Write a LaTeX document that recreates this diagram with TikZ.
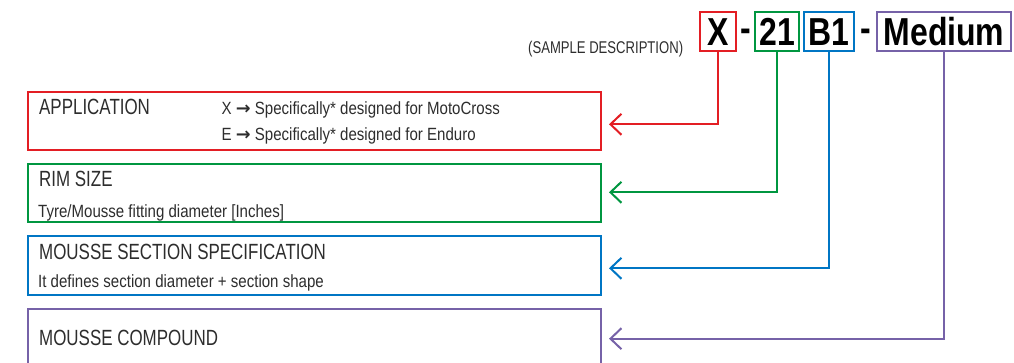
\documentclass[tikz,border=0pt]{standalone}
\usepackage{fontspec}
\setmainfont{Liberation Sans}
\newfontfamily\capfont[FakeStretch=0.77]{Liberation Sans}
\newfontfamily\descfont[FakeStretch=0.85]{Liberation Sans}
\newfontfamily\codefont[FakeStretch=0.82]{Liberation Sans}
\newfontfamily\symfont{DejaVu Sans}
\newcommand{\goesto}{{\symfont\bfseries →}}
\usetikzlibrary{arrows.meta}
\definecolor{appred}{RGB}{227,30,36}
\definecolor{rimgreen}{RGB}{0,150,64}
\definecolor{secblue}{RGB}{0,118,196}
\definecolor{cmppurple}{RGB}{118,98,168}
\definecolor{txtgray}{RGB}{45,45,45}
\tikzset{
  codebox/.style={draw, line width=2.5pt, inner sep=0pt, minimum height=39pt,
    text height=28pt, text depth=0pt, font=\codefont\bfseries\fontsize{39}{39}\selectfont},
  infobox/.style={draw, line width=2pt, minimum width=573pt, inner sep=0pt},
  title/.style={anchor=base west, inner sep=0pt, text=txtgray,
    font=\capfont\fontsize{22}{22}\selectfont},
  desc/.style={anchor=base west, inner sep=0pt, text=txtgray,
    font=\descfont\fontsize{17.7}{17.7}\selectfont},
  lead/.style={line width=2pt, -{Straight Barb[length=11pt,width=21pt]}},
}

\begin{document}
\begin{tikzpicture}[x=1pt,y=-1pt]
  \useasboundingbox (0,0) rectangle (1014,363);
  \begin{scope}
  \clip (0,0) rectangle (1014,363);
  % code
  \node[title, font=\capfont\fontsize{17}{17}\selectfont] (sample) at (528,53.3) {(SAMPLE DESCRIPTION)};
  \node[codebox, appred, text=black, minimum width=36pt] (x) at (718,31.4) {X};
  \node[font=\codefont\bfseries\fontsize{39}{39}\selectfont, inner sep=0pt] (dashA) at (746,35) {-};
  \node[codebox, rimgreen, text=black, minimum width=44pt] (rim) at (777,31.4) {21};
  \node[codebox, secblue, text=black, minimum width=50pt] (sec) at (829,31.4) {B1};
  \node[font=\codefont\bfseries\fontsize{39}{39}\selectfont, inner sep=0pt] (dashB) at (866,35) {-};
  \node[codebox, cmppurple, text=black, minimum width=134pt] (cmp) at (944,31.4) {Medium};

  % application
  \node[infobox, appred, minimum height=58pt] (app) at (314.5,121) {};
  \node[title] (appT) at (39,114.7) {APPLICATION};
  \node[desc] (appX) at (221.5,114.7) {X \goesto\ Specifically* designed for MotoCross};
  \node[desc] (appE) at (221.5,140.3) {E \goesto\ Specifically* designed for Enduro};
  % rim size
  \node[infobox, rimgreen, minimum height=58pt] (size) at (314.5,193) {};
  \node[title] (sizeT) at (39,186.7) {RIM SIZE};
  \node[desc] (sizeD) at (38,217.3) {Tyre/Mousse fitting diameter [Inches]};
  % section
  \node[infobox, secblue, minimum height=59pt] (spec) at (314.5,265.5) {};
  \node[title] (specT) at (39,259.3) {MOUSSE SECTION SPECIFICATION};
  \node[desc] (specD) at (38,287.7) {It defines section diameter + section shape};
  % compound
  \node[infobox, cmppurple, minimum height=71pt] (comp) at (314.5,344.5) {};
  \node[title] (compT) at (39,345.7) {MOUSSE COMPOUND};

  % leads
  \coordinate (appin) at (609,124.3);
  \coordinate (sizein) at (609,192.3);
  \coordinate (specin) at (609,268.3);
  \coordinate (compin) at (609,338.7);
  \draw[lead, appred] (x.south) |- (appin);
  \draw[lead, rimgreen] (rim.south) |- (sizein);
  \draw[lead, secblue] (sec.south) |- (specin);
  \draw[lead, cmppurple] (cmp.south) |- (compin);
  \end{scope}
\end{tikzpicture}
\end{document}
